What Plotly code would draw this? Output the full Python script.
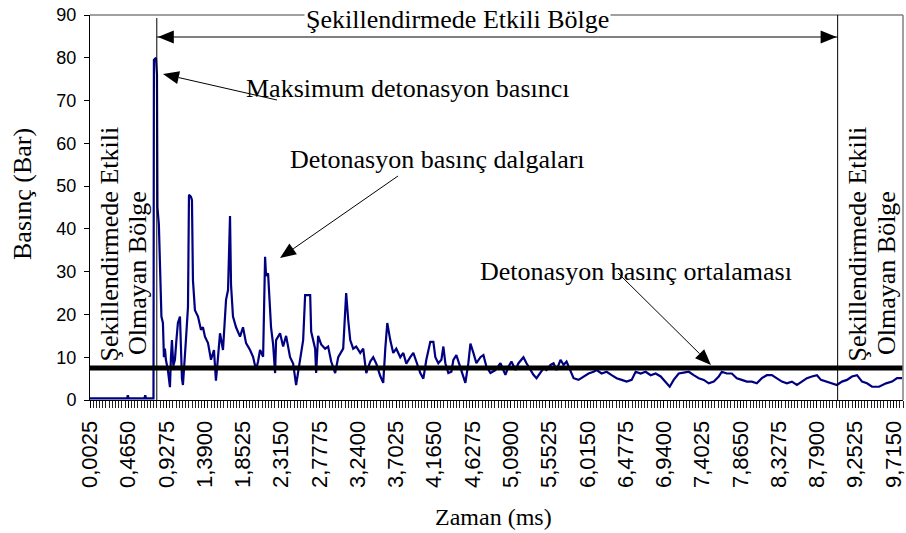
import plotly.graph_objects as go

# ---------------- data ----------------
time_ms = [
    0.0025, 0.45, 0.46, 0.47, 0.66, 0.67, 0.68, 0.77, 0.775, 0.80, 0.812, 0.818,
    0.835, 0.847, 0.866, 0.884, 0.896, 0.908, 0.920, 0.944, 0.969, 0.981, 0.993,
    1.010, 1.029, 1.047, 1.065, 1.090, 1.102, 1.114, 1.126, 1.150, 1.162, 1.187,
    1.199, 1.223, 1.235, 1.247, 1.271, 1.308, 1.344, 1.368, 1.392, 1.429, 1.465,
    1.501, 1.525, 1.550, 1.574, 1.610, 1.647, 1.671, 1.695, 1.707, 1.731, 1.768,
    1.816, 1.852, 1.889, 1.937, 1.973, 2.010, 2.034, 2.058, 2.095, 2.119, 2.131,
    2.155, 2.191, 2.216, 2.240, 2.252, 2.300, 2.337, 2.373, 2.421, 2.458, 2.494,
    2.542, 2.579, 2.603, 2.664, 2.676, 2.724, 2.736, 2.760, 2.797, 2.845, 2.881,
    2.918, 2.966, 3.003, 3.063, 3.099, 3.124, 3.148, 3.184, 3.220, 3.269, 3.305,
    3.342, 3.390, 3.426, 3.463, 3.511, 3.547, 3.572, 3.596, 3.632, 3.668, 3.705,
    3.753, 3.790, 3.826, 3.874, 3.911, 3.947, 3.995, 4.032, 4.068, 4.116, 4.153,
    4.177, 4.213, 4.250, 4.274, 4.298, 4.334, 4.371, 4.395, 4.431, 4.480, 4.516,
    4.540, 4.576, 4.601, 4.637, 4.673, 4.722, 4.758, 4.794, 4.843, 4.903, 4.964,
    5.024, 5.061, 5.097, 5.145, 5.182, 5.242, 5.279, 5.327, 5.363, 5.400, 5.448,
    5.484, 5.521, 5.569, 5.606, 5.642, 5.690, 5.727, 5.763, 5.811, 5.848, 5.908,
    5.969, 6.029, 6.090, 6.126, 6.187, 6.247, 6.308, 6.368, 6.429, 6.489, 6.550,
    6.598, 6.659, 6.719, 6.780, 6.840, 6.901, 6.961, 7.010, 7.058, 7.119, 7.179,
    7.240, 7.300, 7.361, 7.422, 7.482, 7.543, 7.603, 7.640, 7.700, 7.761, 7.821,
    7.882, 7.942, 8.003, 8.063, 8.124, 8.184, 8.245, 8.305, 8.366, 8.426, 8.487,
    8.548, 8.608, 8.669, 8.729, 8.790, 8.838, 8.899, 8.971, 9.032, 9.092, 9.153,
    9.213, 9.274, 9.335, 9.395, 9.456, 9.540, 9.625, 9.698, 9.758, 9.819,
]
pressure_bar = [
    0.4, 0.4, 1.1, 0.4, 0.4, 1.1, 0.4, 0.4, 79.5, 80, 76, 45,
    41, 31, 19.5, 18, 10, 12, 9.4, 7, 3, 10, 14,
    8, 9.4, 14, 18, 19.5, 12, 5, 3.5, 9.4, 14, 21.8,
    48, 47.5, 46.7, 28, 21, 19.5, 16.4, 17, 14.8, 13.3, 9.4,
    11.7, 4.5, 10, 15.6, 11.7, 23.4, 25.7, 43, 27, 19.5, 17,
    14.8, 17, 13.3, 11.7, 10.1, 7.1, 9, 11.7, 10.1, 33.5, 29,
    29.6, 17, 13, 6.3, 14, 15.6, 12.5, 15, 10, 8.5, 3.5,
    10, 14, 24.5, 24.5, 16, 12, 6.3, 15, 13, 12, 12.5,
    9, 6.3, 10, 12, 25, 18.7, 14, 12, 12.5, 11, 12,
    6.3, 9, 10, 8.5, 5.6, 4, 12, 18, 14, 11, 12,
    10, 11, 8.5, 10, 11, 9, 6.3, 5, 9.4, 13.6, 13.6,
    10, 8.6, 9.4, 12.5, 8.6, 6.3, 6.6, 9.4, 10.5, 7.8, 5.4,
    4, 8.6, 13.2, 11, 8.6, 10, 10.5, 7.8, 6.3, 7, 8.6,
    5.9, 7.8, 9, 7, 8.6, 10, 8.6, 7, 5.9, 5.1, 6.6,
    7.4, 7, 8.2, 8.6, 7, 9.4, 8.2, 9, 6.6, 5.1, 4.7,
    5.5, 6.2, 6.6, 7, 6.2, 6.6, 5.8, 5.1, 4.7, 4.3, 4.7,
    6.6, 6.2, 6.6, 5.8, 6.2, 5.5, 4.3, 3.1, 4.7, 6.2, 6.4,
    6.6, 5.8, 5.1, 4.7, 3.9, 4.3, 5.5, 6.6, 6.2, 6.2, 5.1,
    4.7, 4.3, 4.3, 3.9, 5.1, 5.8, 5.8, 5.1, 4.3, 3.9, 4.3,
    3.5, 4.3, 5.1, 5.5, 5.8, 4.7, 4.3, 3.9, 3.5, 4.3, 4.7,
    5.5, 5.8, 4.3, 3.9, 3.1, 3.1, 3.9, 4.3, 5.1, 5.1,
]
average_pressure = 7.5          # "Detonasyon basınç ortalaması"
region_start_ms = 0.81          # start of "Şekillendirmede Etkili Bölge"
region_end_ms = 9.04            # end of "Şekillendirmede Etkili Bölge"

tick_values = [0.0025, 0.4650, 0.9275, 1.3900, 1.8525, 2.3150, 2.7775, 3.2400,
               3.7025, 4.1650, 4.6275, 5.0900, 5.5525, 6.0150, 6.4775, 6.9400,
               7.4025, 7.8650, 8.3275, 8.7900, 9.2525, 9.7150]
tick_labels = ["0,0025", "0,4650", "0,9275", "1,3900", "1,8525", "2,3150",
               "2,7775", "3,2400", "3,7025", "4,1650", "4,6275", "5,0900",
               "5,5525", "6,0150", "6,4775", "6,9400", "7,4025", "7,8650",
               "8,3275", "8,7900", "9,2525", "9,7150"]

# ---------------- layout geometry (pixels) ----------------
W, H = 906, 533
L, R, T, B = 90, 903, 15, 400
X_MIN, X_MAX = 0.0025, 9.83
Y_MIN, Y_MAX = 0, 90


def xpx(ms):
    return L + (ms - X_MIN) / (X_MAX - X_MIN) * (R - L)


def pX(x):
    return (x - L) / (R - L)


def pY(y):
    return (B - y) / (B - T)


serif = "Liberation Serif, Times New Roman, serif"
sans = "Liberation Sans, Arial, sans-serif"

fig = go.Figure()
fig.add_trace(go.Scatter(x=time_ms, y=pressure_bar, mode="lines",
                         line=dict(color="#000080", width=2.2), hoverinfo="skip"))
fig.add_trace(go.Scatter(x=[X_MIN, X_MAX], y=[average_pressure, average_pressure],
                         mode="lines", line=dict(color="black", width=5),
                         hoverinfo="skip"))

shapes = []
# plot-area border (top and right, grey)
shapes.append(dict(type="line", xref="paper", yref="paper", x0=0, x1=1, y0=1, y1=1,
                   line=dict(color="#808080", width=1.5)))
shapes.append(dict(type="line", xref="paper", yref="paper", x0=1, x1=1, y0=0, y1=1,
                   line=dict(color="#808080", width=1.5)))
# region boundaries
xs, xe = xpx(region_start_ms), xpx(region_end_ms)
shapes.append(dict(type="line", xref="paper", yref="paper", x0=pX(xs), x1=pX(xs),
                   y0=0, y1=pY(18), line=dict(color="black", width=1)))
shapes.append(dict(type="line", xref="paper", yref="paper", x0=pX(xe), x1=pX(xe),
                   y0=0, y1=1, line=dict(color="black", width=1)))
# double arrow
ay = 37
shapes.append(dict(type="line", xref="paper", yref="paper", x0=pX(xs), x1=pX(xe),
                   y0=pY(ay), y1=pY(ay), line=dict(color="black", width=1)))


def tri(tip, base1, base2):
    pts = [tip, base1, base2]
    d = "M " + " L ".join(f"{pX(x):.5f},{pY(y):.5f}" for x, y in pts) + " Z"
    return dict(type="path", xref="paper", yref="paper", path=d,
                fillcolor="black", line=dict(width=0))


def arrow(tail, tip, length=16, half=6.5):
    (tx, ty), (hx, hy) = tail, tip
    dx, dy = tx - hx, ty - hy
    n = (dx * dx + dy * dy) ** 0.5
    ux, uy = dx / n, dy / n
    bx, by = hx + ux * length, hy + uy * length
    px_, py_ = -uy * half, ux * half
    return [dict(type="line", xref="paper", yref="paper", x0=pX(tx), y0=pY(ty),
                 x1=pX(bx), y1=pY(by), line=dict(color="black", width=1)),
            tri((hx, hy), (bx + px_, by + py_), (bx - px_, by - py_))]


shapes.append(tri((xs + 1, ay), (xs + 17, ay - 6.5), (xs + 17, ay + 6.5)))
shapes.append(tri((xe - 1, ay), (xe - 17, ay - 6.5), (xe - 17, ay + 6.5)))
shapes += arrow((277, 100), (163, 74))
shapes += arrow((398, 176), (280, 258))
shapes += arrow((618, 273), (711, 365))

ann = []


def text(s, x, y, size=26, xanchor="left", yanchor="middle", angle=0, bg=None, fam=serif):
    d = dict(text=s, x=pX(x), y=pY(y), xref="paper", yref="paper", showarrow=False,
             xanchor=xanchor, yanchor=yanchor, textangle=angle,
             font=dict(family=fam, size=size, color="black"))
    if bg:
        d["bgcolor"] = bg
    ann.append(d)


text("Şekillendirmede Etkili Bölge", 457, 19, xanchor="center", bg="white")
text("Maksimum detonasyon basıncı", 244, 89)
text("Detonasyon basınç dalgaları", 288, 159)
text("Detonasyon basınç ortalaması", 478, 271)
text("Şekillendirmede Etkili", 109, 364, xanchor="center", yanchor="bottom", angle=-90)
text("Olmayan Bölge", 137, 357, xanchor="center", yanchor="bottom", angle=-90)
text("Şekillendirmede Etkili", 857, 364, xanchor="center", yanchor="bottom", angle=-90)
text("Olmayan Bölge", 886, 357, xanchor="center", yanchor="bottom", angle=-90)
text("Basınç (Bar)", 22, 194, size=26, xanchor="center", angle=-90)
text("Zaman (ms)", 493, 517, size=24, xanchor="center")

fig.update_layout(
    width=W, height=H, margin=dict(l=L, r=W - R, t=T, b=H - B, autoexpand=False),
    paper_bgcolor="white", plot_bgcolor="white", showlegend=False,
    shapes=shapes, annotations=ann,
    xaxis=dict(range=[X_MIN, X_MAX], tickmode="array", tickvals=tick_values,
               ticktext=tick_labels, tickangle=-90, ticks="outside", ticklen=7,
               tickcolor="black", showline=True, linecolor="black", linewidth=1,
               showgrid=False, zeroline=False, automargin=False, ticklabelstandoff=4,
               tickfont=dict(family=sans, size=22, color="black"),
               minor=dict(ticks="outside", ticklen=7, tickcolor="#222",
                          tick0=0.0025, dtick=0.4625 / 12, showgrid=False)),
    yaxis=dict(range=[Y_MIN, Y_MAX], dtick=10, ticks="outside", ticklen=5,
               tickcolor="black", showline=True, linecolor="black", linewidth=1,
               showgrid=False, zeroline=False, ticklabelstandoff=4, automargin=False,
               tickfont=dict(family=sans, size=18, color="black")),
)

fig.write_html(
    "out.html",
    config={"displayModeBar": False},
    post_script="document.body.style.margin='0';document.body.style.padding='0';"
                "document.body.style.overflow='hidden';",
)
